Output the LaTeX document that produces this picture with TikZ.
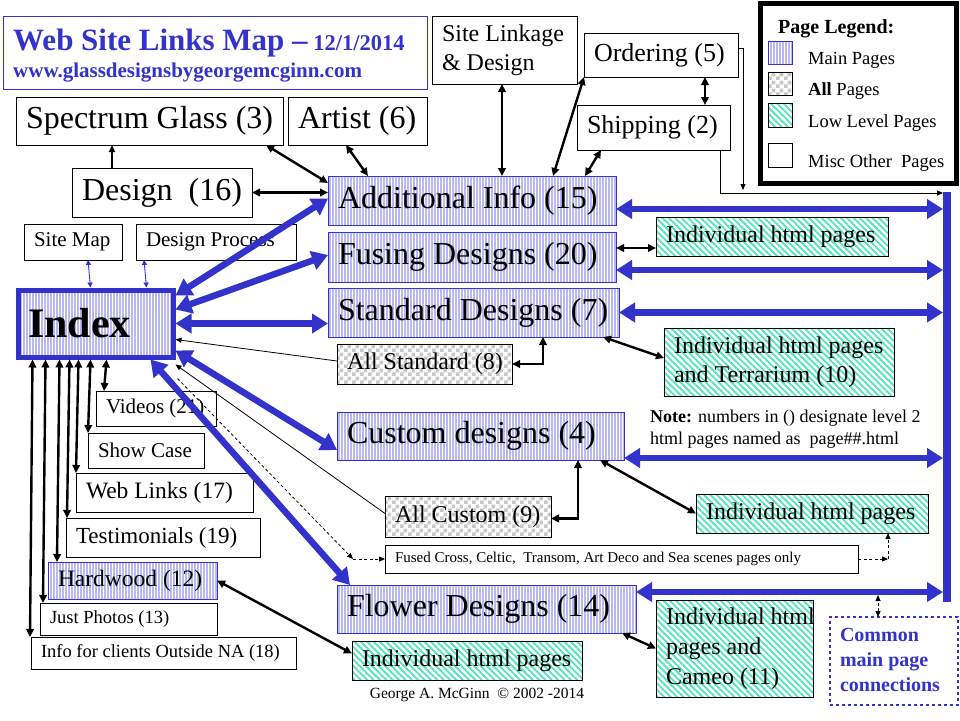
\documentclass[tikz,border=0pt]{standalone}
\usepackage{fontspec}
\setmainfont{Liberation Serif}
\usetikzlibrary{arrows.meta,patterns,patterns.meta}
\definecolor{myblue}{RGB}{51,51,204}
\definecolor{mainline}{RGB}{185,185,240}
\definecolor{checkgray}{RGB}{200,200,200}
\definecolor{tealc}{RGB}{80,228,186}
\pgfdeclarepatternformonly{mychecker}{\pgfqpoint{0pt}{0pt}}{\pgfqpoint{8pt}{8pt}}{\pgfqpoint{8pt}{8pt}}{%
  \pgfpathrectangle{\pgfqpoint{0pt}{0pt}}{\pgfqpoint{4pt}{4pt}}%
  \pgfpathrectangle{\pgfqpoint{4pt}{4pt}}{\pgfqpoint{4pt}{4pt}}%
  \pgfusepath{fill}}
\newcommand\fs[2]{\fontsize{#1}{#2}\selectfont}
\newcommand\boxat[7]{%
  \pgfmathsetmacro\bxw{#5-#3}%
  \pgfmathsetmacro\bxh{#6-#4}%
  \pgfmathsetmacro\bxt{#5-#3-20}%
  \node[inner xsep=10pt, inner ysep=0pt, outer sep=0pt, anchor=north west,
        minimum width=\bxw pt, minimum height=\bxh pt, #2] (#1) at (#3,#4)
        {\makebox[\bxt pt][l]{#7}};}
\begin{document}
\begin{tikzpicture}[x=1pt,y=-1pt,
  mainpg/.style={draw=myblue, line width=0.8pt, preaction={fill=white},
     pattern={Lines[angle=90,distance=3pt,line width=1.1pt]}, pattern color=mainline},
  allpg/.style={draw=black, line width=0.9pt, preaction={fill=white},
     pattern=mychecker, pattern color=checkgray},
  lowpg/.style={draw=black, line width=0.9pt, preaction={fill=white},
     pattern={Lines[angle=-45,distance=4.5pt,line width=1.8pt]}, pattern color=tealc},
  miscpg/.style={draw=black, line width=0.9pt, fill=white},
  bk/.style={line width=2.4pt, arrows={Triangle[length=8pt,width=7.5pt]-Triangle[length=8pt,width=7.5pt]}},
  sbk/.style={line width=1.6pt, -{Triangle[length=7pt,width=6pt]}},
  bl/.style={draw=myblue, line width=6.5pt, arrows={Triangle[length=16pt,width=19pt]-Triangle[length=16pt,width=19pt]}},
  thinarrow/.style={line width=0.8pt, -{Triangle[length=6pt,width=5pt]}},
  dsh/.style={line width=0.8pt, dash pattern=on 3pt off 2.5pt, -{Triangle[length=6pt,width=5pt]}},
  dshdbl/.style={line width=0.8pt, dash pattern=on 3pt off 2.5pt, arrows={Triangle[length=6pt,width=5pt]-Triangle[length=6pt,width=5pt]}},
  bthin/.style={draw=myblue, line width=0.9pt, arrows={Triangle[length=5pt,width=5pt]-Triangle[length=5pt,width=5pt]}},
  txt/.style={inner sep=0pt, anchor=base west}
]
\fill[white] (0,0) rectangle (960,720);
\useasboundingbox (0,0) rectangle (960,720);

% title
\boxat{titlebox}{draw=myblue,line width=1pt}{3}{16}{427}{89}{}
\node[txt, text=myblue] (ttl) at (13,50) {\fs{31}{36}\bfseries Web Site Links Map –\fs{22.5}{26}\bfseries\ 12/1/2014};
\node[txt, text=myblue, font=\fs{21}{24}\bfseries] (url) at (13,77) {www.glassdesignsbygeorgemcginn.com};

% legend
\node[draw, fill=white, line width=4.5pt, minimum width=196pt, minimum height=180pt, anchor=north west, inner sep=0pt, outer sep=0pt] (legend) at (760.25,3.25) {};
\node[txt, font=\fs{20}{24}\bfseries] (lgt) at (778,33) {Page Legend:};
\boxat{swm}{mainpg}{768}{41}{792}{64}{}
\boxat{swa}{allpg}{768}{72}{792}{95}{}
\boxat{swl}{lowpg}{768}{103}{792}{127}{}
\boxat{swo}{miscpg}{768}{143}{792}{167}{}
\node[txt, font=\fs{18.5}{22}] (lg1) at (808,64) {Main Pages};
\node[txt, font=\fs{18.5}{22}] (lg2) at (808,95) {\textbf{All} Pages};
\node[txt, font=\fs{18.5}{22}] (lg3) at (808,127) {Low Level Pages};
\node[txt, font=\fs{18.5}{22}] (lg4) at (808,167) {Misc Other\ \ Pages};

% boxes
\boxat{spectrum}{miscpg, font=\fs{32}{38}}{16}{97}{283}{145}{Spectrum Glass (3)}
\boxat{artist}{miscpg, font=\fs{32}{38}}{288}{97}{427}{145}{Artist (6)}
\boxat{design}{miscpg, font=\fs{32}{38}}{72}{168}{252}{217}{Design\ \ (16)}
\boxat{linkage}{miscpg, font=\fs{24}{29}}{432}{16}{577}{84}{\begin{tabular}{@{}l@{}}Site Linkage\\\& Design\end{tabular}}
\boxat{ordering}{miscpg, font=\fs{26}{31}}{584}{33}{738}{77}{Ordering (5)}
\boxat{shipping}{miscpg, font=\fs{26}{31}}{577}{105}{730}{150}{Shipping (2)}
\boxat{addinfo}{mainpg, font=\fs{32}{38}}{328}{176}{616}{225}{Additional Info (15)}
\boxat{sitemap}{miscpg, font=\fs{21}{25}}{24}{224}{122}{260}{Site Map}
\boxat{designproc}{miscpg, font=\fs{21}{25}}{136}{224}{296}{260}{Design Process}
\boxat{index}{mainpg, line width=5pt, outer sep=2.5pt, font=\fs{42}{48}\bfseries}{15.5}{287.5}{170.5}{354.5}{Index}
\boxat{fusing}{mainpg, font=\fs{32}{38}}{328}{232}{616}{282}{Fusing Designs (20)}
\boxat{standard}{mainpg, font=\fs{32}{38}}{328}{288}{619}{337}{Standard Designs (7)}
\boxat{allstd}{allpg, font=\fs{24}{29}}{337}{344}{512}{384}{All Standard (8)}
\boxat{custom}{mainpg, font=\fs{32}{38}}{337}{412}{624}{460}{Custom designs (4)}
\boxat{indfus}{lowpg, font=\fs{24}{29}}{656}{217}{888}{256}{Individual html pages}
\boxat{indterr}{lowpg, font=\fs{24}{29}}{664}{328}{894}{396}{\begin{tabular}{@{}l@{}}Individual html pages\\and Terrarium (10)\end{tabular}}
\boxat{videos}{miscpg, font=\fs{21}{25}}{96}{391}{216}{426}{Videos (21)}
\boxat{showcase}{miscpg, font=\fs{21}{25}}{88}{433}{204}{468}{Show Case}
\boxat{weblinks}{miscpg, font=\fs{23.5}{28}}{76}{473}{253}{512}{Web Links (17)}
\boxat{testim}{miscpg, font=\fs{23}{28}}{66}{518}{260}{557}{Testimonials (19)}
\boxat{hardwood}{mainpg, font=\fs{23.5}{28}}{48}{562}{217}{599}{Hardwood (12)}
\boxat{justphotos}{miscpg, font=\fs{18.5}{22}}{40}{603}{217}{635}{Just Photos (13)}
\boxat{infona}{miscpg, font=\fs{18.5}{22}}{31}{637}{296}{669}{Info for clients Outside NA (18)}
\boxat{allcustom}{allpg, font=\fs{24}{29}}{385}{496}{551}{537}{All Custom (9)}
\boxat{indcust}{lowpg, font=\fs{24}{29}}{696}{494}{928}{533}{Individual html pages}
\boxat{fused}{miscpg, font=\fs{15}{18}}{385}{545}{858}{573}{Fused Cross, Celtic,\ \ Transom, Art Deco and Sea scenes pages only}
\boxat{flower}{mainpg, font=\fs{32}{38}}{337}{585}{636}{633}{Flower Designs (14)}
\boxat{indflow}{lowpg, font=\fs{24}{29}}{352}{641}{582}{680}{Individual html pages}
\boxat{cameo}{lowpg, font=\fs{24}{30}}{656}{600}{813}{697}{\begin{tabular}{@{}l@{}}Individual html\\pages and\\Cameo (11)\end{tabular}}
\boxat{common}{draw=myblue, dashed, line width=1.2pt, fill=white, text=myblue, font=\fs{20}{25}\bfseries}{830}{617}{958}{705}{\begin{tabular}{@{}l@{}}Common\\main page\\connections\end{tabular}}
\node[fill=myblue, inner sep=0pt, outer sep=0pt, minimum width=8pt, minimum height=410pt, anchor=north west] (bar) at (943,192) {};

% texts
\node[txt, font=\fs{18}{21}] (note1) at (650,422) {\textbf{Note:} numbers in () designate level 2};
\node[txt, font=\fs{18}{21}] (note2) at (650,444) {html pages named as\ \ page\#\#.html};
\node[inner sep=0pt, anchor=base, font=\fs{15.5}{18}] (copy) at (477,698) {George A. McGinn\ \ © 2002 -2014};

% connectors: top area
\draw[sbk] ([xshift=40pt]design.north west) -- ([xshift=96pt]spectrum.south west);
\draw[bk] (design.east) -- (design.east -| addinfo.west);
\draw[bk] ([xshift=-17pt]spectrum.south east) -- ([yshift=-7pt]addinfo.north west);
\draw[bk] ([xshift=58pt]artist.south west) -- ([xshift=40pt]addinfo.north west);
\draw[bk] ([xshift=70pt]linkage.south west) -- ([xshift=174pt]addinfo.north west);
\draw[bk] (ordering.south west) -- ([xshift=225pt]addinfo.north west);
\draw[bk] ([xshift=24pt]shipping.south west) -- ([xshift=257pt]addinfo.north west);
\draw[bk] ([xshift=121pt]ordering.south west) -- ([xshift=128pt]shipping.north west);
\draw[thinarrow] ([yshift=7pt]ordering.east) -- ++(5,0) -- ++(0,142);
\draw[thinarrow] ([xshift=-10pt]shipping.south east) |- ([yshift=-1pt]bar.north west);

% blue bar connections
\draw[bl] ([yshift=-8.5pt]addinfo.east) -- ([yshift=-8.5pt]addinfo.east -| bar.west);
\draw[bl] ([yshift=-13pt]fusing.east) -- ([yshift=-13pt]fusing.east -| bar.west);
\draw[bl] (standard.east) -- (standard.east -| bar.west);
\draw[bl] ([yshift=-22pt]custom.east) -- ([yshift=-22pt]custom.east -| bar.west);
\draw[bl] ([yshift=17pt]flower.east) -- ([yshift=17pt]flower.east -| bar.west);
\draw[dshdbl] ([xshift=48pt]common.north west) -- ++(0,-22);

% low level links
\draw[bk] ([yshift=9pt]fusing.east) -- ([yshift=9pt]fusing.east -| indfus.west);
\draw[bk] ([xshift=-16pt]standard.south east) -- ([yshift=4pt]indterr.west);
\draw[bk] (allstd.east) -| ([xshift=215pt]standard.south west);
\draw[bk] ([yshift=-2pt]allcustom.east) -| ([xshift=241pt]custom.south west);
\draw[bk] ([xshift=-24pt]custom.south east) -- (indcust.west);
\draw[bk] ([xshift=-14pt]flower.south east) -- (cameo.west);
\draw[bk] (hardwood.east) -- ([yshift=7pt]indflow.west);

% thin links to index
\draw[thinarrow] ([yshift=3pt]allstd.west) -- ([yshift=-16pt]index.east);
\draw[thinarrow] ([yshift=3pt]allcustom.west) -- ([yshift=-5pt]index.south east);
\coordinate (dl) at (353,559);
\coordinate (dr) at (888,559);
\draw[dsh] ([shift={(2pt,-19pt)}]index.south east) -- (dl);
\draw[dsh] (dl) -- (fused.west);
\draw[dsh] (fused.east) -- (dr);
\draw[dsh] (dr) -- (dr |- indcust.south);

% index thick blue
\draw[bl] ([yshift=-8pt]index.north east) -- ([yshift=2pt]addinfo.west);
\draw[bl] ([yshift=-22pt]index.north east) -- ([yshift=2pt]fusing.west);
\draw[bl] (index.east) -- (index.east -| standard.west);
\draw[bl] ([yshift=-63pt]index.north east) -- ([yshift=-14pt]custom.west);
\draw[bl] ([xshift=-25pt]index.south east) -- ([xshift=13pt]flower.north west);

% site map / design process
\draw[bthin] ([xshift=64pt]sitemap.south west) -- ([xshift=75pt]index.north west);
\draw[bthin] ([xshift=8pt]designproc.south west) -- ([xshift=131pt]index.north west);

% index vertical links
\draw[bk] ([xshift=91pt]index.south west) -- ([xshift=8pt]videos.north west);
\draw[bk] ([xshift=75pt]index.south west) -- (showcase.north west);
\draw[bk] ([xshift=63pt]index.south west) -- (weblinks.north west);
\draw[bk] ([xshift=54pt]index.south west) -- ([xshift=1pt]testim.north west);
\draw[bk] ([xshift=44pt]index.south west) -- ([xshift=9pt]hardwood.north west);
\draw[bk] ([xshift=30pt]index.south west) -- ([xshift=3pt]justphotos.north west);
\draw[bk] ([xshift=17pt]index.south west) -- ([xshift=-1pt]infona.north west);
\end{tikzpicture}
\end{document}
